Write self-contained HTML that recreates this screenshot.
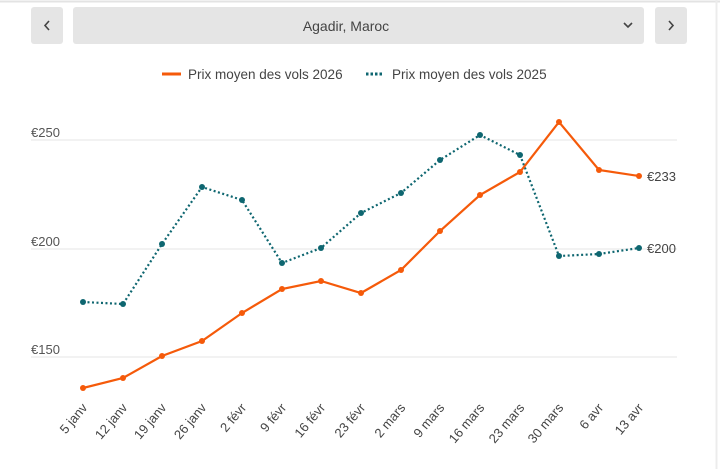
<!DOCTYPE html>
<html><head><meta charset="utf-8"><style>
html,body{margin:0;padding:0;background:#fff;width:720px;height:469px;overflow:hidden;font-family:"Liberation Sans",Arial,sans-serif}
</style></head><body>
<svg width="720" height="469" xmlns="http://www.w3.org/2000/svg" font-family="Liberation Sans, Arial, sans-serif">
<line x1="0" y1="1.5" x2="720" y2="1.5" stroke="#e3e3e3" stroke-width="2"/>
<line x1="716.5" y1="0" x2="716.5" y2="469" stroke="#ececec" stroke-width="2"/>
<rect x="31" y="7" width="32" height="37" rx="3" fill="#e5e5e5"/>
<polyline points="49,21 45,25.5 49,30" fill="none" stroke="#444" stroke-width="1.6"/>
<rect x="73" y="7" width="571" height="37" rx="3" fill="#e5e5e5"/>
<text x="346" y="31" font-size="14" fill="#444" text-anchor="middle">Agadir, Maroc</text>
<polyline points="624,23 628,27 632,23" fill="none" stroke="#444" stroke-width="1.6"/>
<rect x="655" y="7" width="32" height="37" rx="3" fill="#e5e5e5"/>
<polyline points="669,21 673,25.5 669,30" fill="none" stroke="#444" stroke-width="1.6"/>
<line x1="162" y1="74" x2="181" y2="74" stroke="#f55a0a" stroke-width="3"/>
<text x="188" y="79" font-size="13.5" fill="#444">Prix moyen des vols 2026</text>
<line x1="366" y1="74" x2="384" y2="74" stroke="#0e6670" stroke-width="3" stroke-dasharray="2.5,2"/>
<text x="392" y="79" font-size="13.5" fill="#444">Prix moyen des vols 2025</text>
<g stroke="#e6e6e6" stroke-width="1"><line x1="31" y1="140" x2="677" y2="140"/><line x1="31" y1="249" x2="677" y2="249"/><line x1="31" y1="357" x2="677" y2="357"/></g>
<g font-size="13" fill="#555"><text x="31" y="137">€250</text><text x="31" y="246">€200</text><text x="31" y="354">€150</text></g>
<polyline fill="none" stroke="#0e6670" stroke-width="2.2" stroke-dasharray="2,2.5" points="83,302 123,304 162,244 202,187 242,200 282,263 321,248 361,213 401,193 440,160 480,135 520,155 559,256 599,254 639,248"/>
<g fill="#0e6670"><circle cx="83" cy="302" r="3"/><circle cx="123" cy="304" r="3"/><circle cx="162" cy="244" r="3"/><circle cx="202" cy="187" r="3"/><circle cx="242" cy="200" r="3"/><circle cx="282" cy="263" r="3"/><circle cx="321" cy="248" r="3"/><circle cx="361" cy="213" r="3"/><circle cx="401" cy="193" r="3"/><circle cx="440" cy="160" r="3"/><circle cx="480" cy="135" r="3"/><circle cx="520" cy="155" r="3"/><circle cx="559" cy="256" r="3"/><circle cx="599" cy="254" r="3"/><circle cx="639" cy="248" r="3"/></g>
<polyline fill="none" stroke="#f55a0a" stroke-width="2.2" points="83,388 123,378 162,356 202,341 242,313 282,289 321,281 361,293 401,270 440,231 480,195 520,172 559,122 599,170 639,176"/>
<g fill="#f55a0a"><circle cx="83" cy="388" r="3"/><circle cx="123" cy="378" r="3"/><circle cx="162" cy="356" r="3"/><circle cx="202" cy="341" r="3"/><circle cx="242" cy="313" r="3"/><circle cx="282" cy="289" r="3"/><circle cx="321" cy="281" r="3"/><circle cx="361" cy="293" r="3"/><circle cx="401" cy="270" r="3"/><circle cx="440" cy="231" r="3"/><circle cx="480" cy="195" r="3"/><circle cx="520" cy="172" r="3"/><circle cx="559" cy="122" r="3"/><circle cx="599" cy="170" r="3"/><circle cx="639" cy="176" r="3"/></g>
<g font-size="13" fill="#444"><text x="647" y="181">€233</text><text x="647" y="253">€200</text></g>
<g font-size="13" fill="#444" text-anchor="end">
<text transform="translate(88,408) rotate(-50)">5 janv</text>
<text transform="translate(128,408) rotate(-50)">12 janv</text>
<text transform="translate(167,408) rotate(-50)">19 janv</text>
<text transform="translate(207,408) rotate(-50)">26 janv</text>
<text transform="translate(247,408) rotate(-50)">2 févr</text>
<text transform="translate(287,408) rotate(-50)">9 févr</text>
<text transform="translate(326,408) rotate(-50)">16 févr</text>
<text transform="translate(366,408) rotate(-50)">23 févr</text>
<text transform="translate(406,408) rotate(-50)">2 mars</text>
<text transform="translate(445,408) rotate(-50)">9 mars</text>
<text transform="translate(485,408) rotate(-50)">16 mars</text>
<text transform="translate(525,408) rotate(-50)">23 mars</text>
<text transform="translate(564,408) rotate(-50)">30 mars</text>
<text transform="translate(604,408) rotate(-50)">6 avr</text>
<text transform="translate(644,408) rotate(-50)">13 avr</text>
</g>
</svg>
</body></html>
